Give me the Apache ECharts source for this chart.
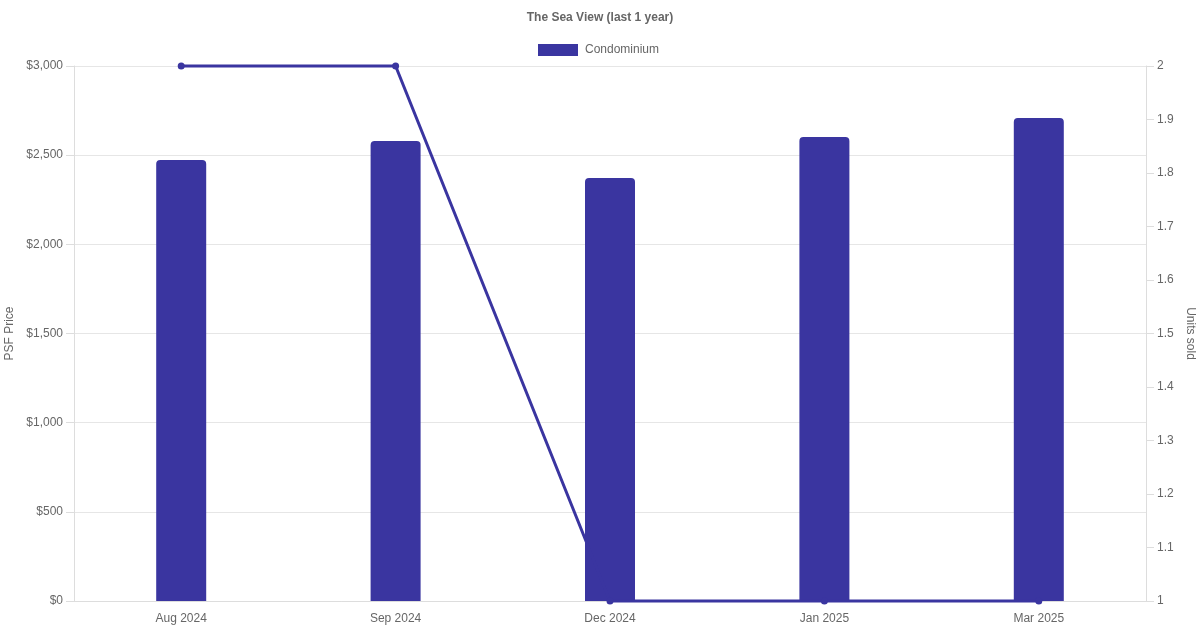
<!DOCTYPE html>
<html>
<head>
<meta charset="utf-8">
<script src="https://cdn.jsdelivr.net/npm/echarts@6/dist/echarts.min.js"></script>
<style>html,body{margin:0;padding:0;background:#fff}#c{width:1200px;height:630px}</style>
</head>
<body>
<div id="c"></div>
<script>
const categories = ['Aug 2024', 'Sep 2024', 'Dec 2024', 'Jan 2025', 'Mar 2025'];
const psfPrice = [2473, 2579, 2372, 2602, 2708];
const unitsSold = [2, 2, 1, 1, 1];
const psfTicks = { min: 0, max: 3000, interval: 500 };
const unitTicks = { min: 1, max: 2, interval: 0.1 };

const color = '#3a35a0';
const txt = '#666';
const font = 'Liberation Sans, Arial, Helvetica, sans-serif';
const chart = echarts.init(document.getElementById('c'));
chart.setOption({
  animation: false,
  textStyle: { fontFamily: font },
  title: {
    text: 'The Sea View (last 1 year)', left: 'center', top: 7,
    textStyle: { fontSize: 12, fontWeight: 'bold', color: txt, fontFamily: font }
  },
  legend: {
    data: ['Condominium'], top: 44, left: 538,
    itemWidth: 40, itemHeight: 12, itemGap: 10, itemStyle: { borderWidth: 0 },
    textStyle: { fontSize: 12, color: txt, fontFamily: font, padding: [0, 0, 0, 2] },
    icon: 'rect', padding: 0
  },
  grid: { left: 74, right: 54, top: 66, bottom: 29, containLabel: false, outerBoundsMode: 'none' },
  xAxis: {
    type: 'category', data: categories,
    axisLine: { show: true, lineStyle: { color: '#ddd' } },
    axisTick: { show: false },
    splitLine: { show: false },
    axisLabel: { color: txt, fontSize: 12, margin: 12, fontFamily: font }
  },
  yAxis: [{
    type: 'value', position: 'left', min: psfTicks.min, max: psfTicks.max, interval: psfTicks.interval,
    name: 'PSF Price', nameLocation: 'middle', nameGap: 53, nameRotate: 90,
    nameTextStyle: { color: txt, fontSize: 12, fontFamily: font },
    axisLine: { show: true, lineStyle: { color: '#ddd' } },
    axisTick: { show: true, length: 8, lineStyle: { color: '#ddd' } },
    splitLine: { show: true, lineStyle: { color: '#e6e6e6' } },
    axisLabel: { color: txt, fontSize: 12, margin: 11, fontFamily: font,
      formatter: v => '$' + v.toLocaleString('en-US') }
  }, {
    type: 'value', position: 'right', min: unitTicks.min, max: unitTicks.max, interval: unitTicks.interval,
    name: 'Units sold', nameLocation: 'middle', nameGap: 33, nameRotate: -90,
    nameTextStyle: { color: txt, fontSize: 12, fontFamily: font },
    axisLine: { show: true, lineStyle: { color: '#ddd' } },
    axisTick: { show: true, length: 8, lineStyle: { color: '#ddd' } },
    splitLine: { show: false },
    axisLabel: { color: txt, fontSize: 12, margin: 11, fontFamily: font,
      formatter: v => String(Math.round(v * 10) / 10) }
  }],
  series: [{
    name: 'Condominium', type: 'bar', data: psfPrice, yAxisIndex: 0,
    barWidth: 50,
    itemStyle: { color: color, borderRadius: [4, 4, 0, 0] }
  }, {
    name: 'Units', type: 'line', data: unitsSold, yAxisIndex: 1,
    symbol: 'circle', symbolSize: 7, clip: false, z: 5,
    lineStyle: { color: color, width: 3 },
    itemStyle: { color: color }
  }]
});
</script>
</body>
</html>
